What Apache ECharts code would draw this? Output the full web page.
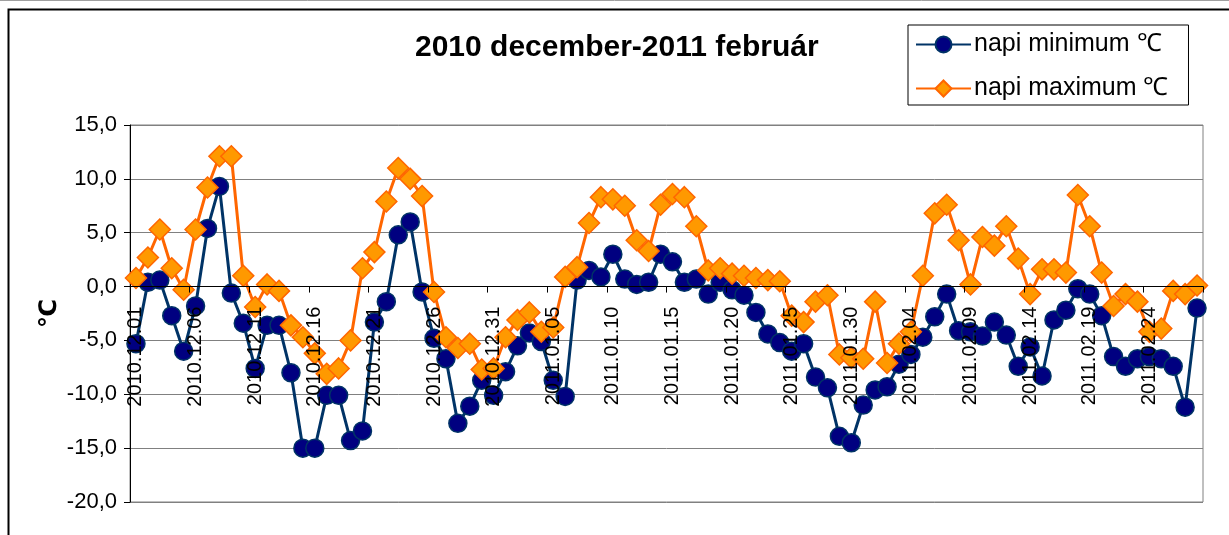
<!DOCTYPE html>
<html>
<head>
<meta charset="utf-8">
<title>2010 december-2011 február</title>
<script src="https://cdn.jsdelivr.net/npm/echarts@6/dist/echarts.min.js"></script>
<style>
  html, body { margin: 0; padding: 0; background: #fff; }
  #chart { width: 1229px; height: 535px; }
</style>
</head>
<body>
<div id="chart"></div>
<script>
// Daily dates, 2010.12.01 - 2011.02.28
const days = [
  '2010.12.01','2010.12.02','2010.12.03','2010.12.04','2010.12.05','2010.12.06','2010.12.07','2010.12.08','2010.12.09','2010.12.10',
  '2010.12.11','2010.12.12','2010.12.13','2010.12.14','2010.12.15','2010.12.16','2010.12.17','2010.12.18','2010.12.19','2010.12.20',
  '2010.12.21','2010.12.22','2010.12.23','2010.12.24','2010.12.25','2010.12.26','2010.12.27','2010.12.28','2010.12.29','2010.12.30',
  '2010.12.31','2011.01.01','2011.01.02','2011.01.03','2011.01.04','2011.01.05','2011.01.06','2011.01.07','2011.01.08','2011.01.09',
  '2011.01.10','2011.01.11','2011.01.12','2011.01.13','2011.01.14','2011.01.15','2011.01.16','2011.01.17','2011.01.18','2011.01.19',
  '2011.01.20','2011.01.21','2011.01.22','2011.01.23','2011.01.24','2011.01.25','2011.01.26','2011.01.27','2011.01.28','2011.01.29',
  '2011.01.30','2011.01.31','2011.02.01','2011.02.02','2011.02.03','2011.02.04','2011.02.05','2011.02.06','2011.02.07','2011.02.08',
  '2011.02.09','2011.02.10','2011.02.11','2011.02.12','2011.02.13','2011.02.14','2011.02.15','2011.02.16','2011.02.17','2011.02.18',
  '2011.02.19','2011.02.20','2011.02.21','2011.02.22','2011.02.23','2011.02.24','2011.02.25','2011.02.26','2011.02.27','2011.02.28'
];

// Daily minimum temperature (°C)
const napiMinimum = [
  -5.3, 0.4, 0.6, -2.7, -6.0, -1.8, 5.4, 9.3, -0.6, -3.4,
  -7.6, -3.6, -3.6, -8.0, -15.0, -15.0, -10.1, -10.1, -14.3, -13.4,
  -3.3, -1.4, 4.8, 6.0, -0.5, -4.8, -6.7, -12.7, -11.1, -8.7,
  -10.1, -7.9, -5.5, -4.3, -5.1, -8.7, -10.2, 0.6, 1.5, 0.9,
  3.0, 0.7, 0.2, 0.4, 3.0, 2.3, 0.4, 0.7, -0.7, 0.4,
  -0.3, -0.8, -2.4, -4.4, -5.2, -6.0, -5.3, -8.4, -9.4, -13.9,
  -14.5, -11.0, -9.6, -9.3, -7.2, -6.3, -4.7, -2.8, -0.7, -4.1,
  -4.2, -4.6, -3.3, -4.5, -7.4, -5.6, -8.3, -3.1, -2.2, -0.2,
  -0.7, -2.7, -6.5, -7.4, -6.7, -6.5, -6.7, -7.4, -11.2, -2.0
];

// Daily maximum temperature (°C)
const napiMaximum = [
  0.8, 2.7, 5.3, 1.7, -0.3, 5.3, 9.2, 12.1, 12.1, 1.0,
  -1.9, 0.2, -0.4, -3.6, -4.7, -6.2, -8.1, -7.6, -5.0, 1.7,
  3.2, 7.9, 11.0, 10.0, 8.4, -0.5, -4.7, -5.7, -5.3, -7.7,
  -7.6, -4.7, -3.1, -2.4, -4.2, -3.8, 0.9, 1.8, 5.9, 8.3,
  8.1, 7.5, 4.3, 3.3, 7.6, 8.6, 8.3, 5.6, 1.5, 1.7,
  1.2, 1.0, 0.8, 0.6, 0.5, -2.7, -3.3, -1.4, -0.8, -6.3,
  -6.6, -6.7, -1.4, -7.1, -5.3, -4.2, 1.0, 6.8, 7.6, 4.3,
  0.2, 4.6, 3.8, 5.6, 2.6, -0.7, 1.6, 1.6, 1.3, 8.5,
  5.6, 1.3, -1.8, -0.7, -1.4, -4.2, -3.9, -0.4, -0.7, 0.1
];

const seriesNames = ['napi minimum ℃', 'napi maximum ℃'];
const chartTitle = '2010 december-2011 február';
const axisUnit = '℃';

const FONT = "'Liberation Sans', Arial, sans-serif";

// value range of the temperature axis
const Y_MIN = -20, Y_MAX = 15;
// plot rectangle
const GRID = { left: 130, right: 26, top: 125, bottom: 33 };
const CHART_H = 535;
// the date axis runs along the 0 °C line: shift it up from the plot bottom
const plotH = CHART_H - GRID.top - GRID.bottom;
const zeroShift = -plotH * (0 - Y_MIN) / (Y_MAX - Y_MIN);

const chart = echarts.init(document.getElementById('chart'), null, { renderer: 'canvas' });

chart.setOption({
  animation: false,
  backgroundColor: '#ffffff',
  textStyle: { fontFamily: FONT, color: '#000' },
  graphic: [
    // chart area frame
    {
      type: 'rect', silent: true, z: -1,
      shape: { x: 8.5, y: 9.5, width: 1400, height: 1000 },
      style: { fill: 'none', stroke: '#000', lineWidth: 2 }
    },
    {
      type: 'line', silent: true,
      shape: { x1: 0, y1: 0.5, x2: 1229, y2: 0.5 },
      style: { stroke: '#a0a0a0', lineWidth: 1 }
    }
  ],
  title: {
    text: chartTitle,
    left: 415,
    top: 33,
    padding: 0,
    textStyle: { fontFamily: FONT, fontSize: 30, fontWeight: 'bold', color: '#000' }
  },
  legend: {
    orient: 'vertical',
    left: 908,
    top: 25,
    padding: [7, 20, 4, 7],
    itemGap: 19,
    itemWidth: 55,
    itemHeight: 20,
    borderColor: '#000',
    borderWidth: 1,
    backgroundColor: '#fff',
    textStyle: { fontFamily: FONT, fontSize: 25, color: '#000', padding: [0, 0, 0, -2] },
    data: seriesNames
  },
  grid: {
    left: GRID.left,
    right: GRID.right,
    top: GRID.top,
    bottom: GRID.bottom,
    outerBoundsMode: 'none',
    containLabel: false,
    show: true,
    borderColor: '#808080',
    borderWidth: 1,
    backgroundColor: 'transparent'
  },
  xAxis: {
    type: 'category',
    data: days,
    boundaryGap: true,
    position: 'bottom',
    offset: zeroShift,
    axisLine: { onZero: false, lineStyle: { color: '#000', width: 1 } },
    axisTick: { show: true, interval: 4, length: 6, inside: false, lineStyle: { color: '#000' } },
    axisLabel: {
      interval: 4,
      rotate: 90,
      margin: 20,
      hideOverlap: false,
      fontFamily: FONT,
      fontSize: 20,
      color: '#000'
    },
    splitLine: { show: false },
    // date labels sit on top of the plotted lines
    z: 10
  },
  yAxis: {
    type: 'value',
    min: Y_MIN,
    max: Y_MAX,
    interval: 5,
    name: axisUnit,
    nameLocation: 'middle',
    nameRotate: 90,
    nameGap: 68,
    nameMoveOverlap: false,
    nameTextStyle: { fontFamily: 'DejaVu Sans, sans-serif', fontSize: 24, fontWeight: 'bold', color: '#000' },
    axisLine: { show: true, lineStyle: { color: '#000', width: 1 } },
    axisTick: { show: true, length: 6, inside: false, lineStyle: { color: '#000' } },
    axisLabel: {
      margin: 13,
      fontFamily: FONT,
      fontSize: 22,
      color: '#000',
      formatter: v => v.toFixed(1).replace('.', ',')
    },
    splitLine: { show: true, lineStyle: { color: '#808080', width: 1 } }
  },
  series: [
    {
      name: seriesNames[0],
      type: 'line',
      data: napiMinimum,
      symbol: 'circle',
      symbolSize: 18,
      showAllSymbol: true,
      itemStyle: { color: '#000080', borderColor: '#003366', borderWidth: 1.5 },
      lineStyle: { color: '#003366', width: 3 },
      z: 2
    },
    {
      name: seriesNames[1],
      type: 'line',
      data: napiMaximum,
      symbol: 'diamond',
      symbolSize: 21,
      showAllSymbol: true,
      itemStyle: { color: '#FF9900', borderColor: '#FF6600', borderWidth: 1.5 },
      lineStyle: { color: '#FF6600', width: 3 },
      z: 3
    }
  ]
});
</script>
</body>
</html>
